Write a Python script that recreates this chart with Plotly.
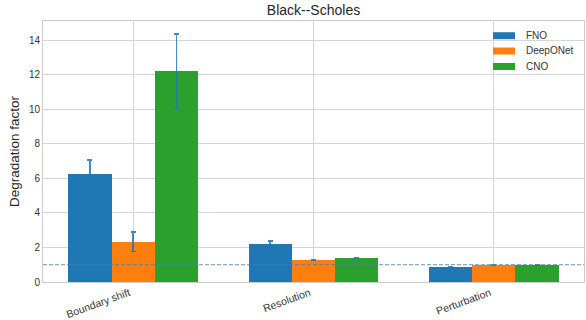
import plotly.graph_objects as go

categories = ["Boundary shift", "Resolution", "Perturbation"]
models = ["FNO", "DeepONet", "CNO"]
colors = ["#1f77b4", "#ff7f0e", "#2ca02c"]

fno_mean = [6.28, 2.21, 0.87]
fno_err = [0.78, 0.16, 0.03]
deeponet_mean = [2.33, 1.28, 0.99]
deeponet_err = [0.57, 0.03, 0.02]
cno_mean = [12.22, 1.40, 0.99]
cno_err = [2.16, 0.03, 0.02]

means = [fno_mean, deeponet_mean, cno_mean]
errs = [fno_err, deeponet_err, cno_err]

bar_width = 0.24
offsets = [-bar_width, 0.0, bar_width]
font_family = "Liberation Sans, Arial, sans-serif"

fig = go.Figure()
x_idx = list(range(len(categories)))

for name, color, m, e, off in zip(models, colors, means, errs, offsets):
    fig.add_trace(go.Bar(
        x=[i + off for i in x_idx],
        y=m,
        width=bar_width,
        name=name,
        showlegend=False,
        marker=dict(color=color, line=dict(width=0)),
        error_y=dict(type="data", array=e, visible=True,
                     color="rgba(31,119,180,0.85)", thickness=1.6, width=2.5),
    ))

# reference level: degradation factor of 1
fig.add_shape(type="line", xref="paper", x0=0, x1=1, yref="y", y0=1, y1=1,
              line=dict(color="rgba(70,130,180,0.85)", width=1, dash="4px,2px"),
              layer="above")

# legend drawn as wide colour patches with labels (paper coordinates)
plot_l, plot_r, plot_t, plot_b = 43, 584, 21, 282
def px_x(x):
    return (x - plot_l) / (plot_r - plot_l)
def px_y(y):
    return (plot_b - y) / (plot_b - plot_t)

legend_rows = [35.7, 51.0, 66.5]
for name, color, yc in zip(models, colors, legend_rows):
    fig.add_shape(type="rect", xref="paper", yref="paper",
                  x0=px_x(493), x1=px_x(515), y0=px_y(yc + 3.5), y1=px_y(yc - 3.5),
                  fillcolor=color, line=dict(width=0), layer="above")
    fig.add_annotation(xref="paper", yref="paper", x=px_x(523.5), y=px_y(yc),
                       text=name, showarrow=False, xanchor="left", yanchor="middle",
                       font=dict(size=10, color="#333"))

fig.update_layout(
    width=586, height=320,
    margin=dict(l=43, r=2, t=21, b=38),
    paper_bgcolor="white", plot_bgcolor="white",
    barmode="overlay",
    bargap=0,
    font=dict(family=font_family, size=10, color="#333"),
    title=dict(text="Black--Scholes", x=0.535, xanchor="center", y=0.985,
               yanchor="top", font=dict(size=14, color="#262626")),
    showlegend=False,
    xaxis=dict(
        range=[-0.5, 2.5],
        tickmode="array", tickvals=x_idx, ticktext=categories,
        tickangle=-20, tickfont=dict(size=10.5, color="#333"),
        ticklabelshift=-4, automargin=False,
        showgrid=True, gridcolor="#d6d6d6", gridwidth=1,
        showline=True, linecolor="#cccccc", linewidth=1, mirror=True,
        zeroline=False, ticks="",
    ),
    yaxis=dict(
        range=[0, 15.12], automargin=False,
        tickmode="array", tickvals=list(range(0, 15, 2)),
        tickfont=dict(size=10, color="#333"),
        title=dict(text="Degradation factor", font=dict(size=13.5, color="#262626"),
                   standoff=6),
        showgrid=True, gridcolor="#d6d6d6", gridwidth=1,
        showline=True, linecolor="#cccccc", linewidth=1, mirror=True,
        zeroline=False, ticks="",
    ),
)

fig.write_html("out.html")
